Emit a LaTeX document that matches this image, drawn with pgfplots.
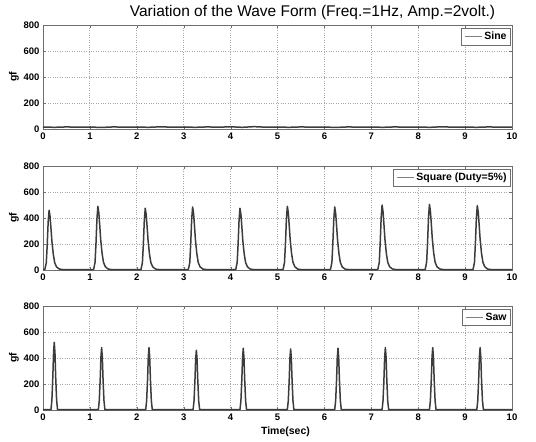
\documentclass[border=0pt]{standalone}
\usepackage{fontspec}
\setmainfont{Liberation Sans}
\usepackage{pgfplots}
\pgfplotsset{compat=1.18}
\definecolor{wave}{RGB}{60,60,60}
\definecolor{frame}{RGB}{110,110,110}
\pgfplotsset{
  wavestyle/.style={
    scale only axis, width=469pt, height=104pt, anchor=south west,
    xmin=0, xmax=10, ymin=0, ymax=800,
    xtick={0,1,...,10}, ytick={0,200,400,600,800},
    grid=major, major grid style={dotted, gray!70, line width=0.8pt},
    axis line style={frame, line width=0.8pt},
    tick style={frame}, tick align=inside, major tick length=3pt,
    /pgf/number format/assume math mode=true,
    tick label style={font=\bfseries\fontsize{9.5}{11}\selectfont},
    label style={font=\bfseries\fontsize{10.5}{12}\selectfont},
    ylabel={gf}, ylabel style={yshift=-2pt},
    legend style={at={(0.998,0.975)}, anchor=north east, draw=frame, line width=1pt,
      font=\bfseries\fontsize{10.5}{12}\selectfont, inner sep=2pt,
      legend cell align=left},
    legend image post style={draw=gray, line width=1.6pt},
  },
  wl/.style={draw=wave, line width=1.5pt, mark=none, line join=round},
}
\begin{document}
\begin{tikzpicture}
\useasboundingbox (0,0) rectangle (536pt,-442pt);
% ---------- Sine ----------
\begin{axis}[wavestyle, at={(43pt,-129pt)},
  title={Variation of the Wave Form (Freq.=1Hz, Amp.=2volt.)},
  title style={font=\fontsize{15.5}{17}\selectfont, yshift=-4pt, xshift=35pt}]
\addplot[wl] coordinates {
(0,15) (0.25,13) (0.5,16) (0.75,14) (1,15) (1.25,12) (1.5,16) (1.75,14) (2,15)
(2.25,13) (2.5,17) (2.75,14) (3,15) (3.25,13) (3.5,16) (3.75,14) (4,17)
(4.25,13) (4.5,18) (4.75,14) (5,15) (5.25,13) (5.5,16) (5.75,14) (6,15)
(6.25,12) (6.5,16) (6.75,14) (7,15) (7.25,13) (7.5,16) (7.75,14) (8,15)
(8.25,13) (8.5,17) (8.75,14) (9,15) (9.25,13) (9.5,16) (9.75,14) (10,15)};
\legend{Sine}
\end{axis}
% ---------- Square ----------
\begin{axis}[wavestyle, at={(43pt,-270pt)}]
\addplot[wl] coordinates {
(0,2) (0.04,5) (0.07,55) (0.09,193) (0.11,368) (0.13,460) (0.15,414) (0.17,322) (0.19,221) (0.22,120) (0.25,55) (0.29,23) (0.35,7) (0.45,2)
(1.05,2) (1.08,5) (1.11,59) (1.13,206) (1.15,392) (1.17,490) (1.19,441) (1.21,343) (1.23,235) (1.26,127) (1.29,59) (1.33,25) (1.39,7) (1.49,2)
(2.06,2) (2.09,5) (2.12,57) (2.14,200) (2.16,380) (2.18,475) (2.20,428) (2.22,333) (2.24,228) (2.27,124) (2.30,57) (2.34,24) (2.40,7) (2.50,2)
(3.07,2) (3.10,5) (3.13,58) (3.15,204) (3.17,388) (3.19,485) (3.21,437) (3.23,340) (3.25,233) (3.28,126) (3.31,58) (3.35,24) (3.41,7) (3.51,2)
(4.08,2) (4.11,5) (4.14,57) (4.16,200) (4.18,380) (4.20,475) (4.22,428) (4.24,333) (4.26,228) (4.29,124) (4.32,57) (4.36,24) (4.42,7) (4.52,2)
(5.09,2) (5.12,5) (5.15,59) (5.17,206) (5.19,392) (5.21,490) (5.23,441) (5.25,343) (5.27,235) (5.30,127) (5.33,59) (5.37,25) (5.43,7) (5.53,2)
(6.10,2) (6.13,5) (6.16,58) (6.18,204) (6.20,388) (6.22,485) (6.24,437) (6.26,340) (6.28,233) (6.31,126) (6.34,58) (6.38,24) (6.44,7) (6.54,2)
(7.11,2) (7.14,5) (7.17,60) (7.19,210) (7.21,400) (7.23,500) (7.25,450) (7.27,350) (7.29,240) (7.32,130) (7.35,60) (7.39,25) (7.45,8) (7.55,2)
(8.12,2) (8.15,5) (8.18,61) (8.20,212) (8.22,404) (8.24,505) (8.26,455) (8.28,354) (8.30,242) (8.33,131) (8.36,61) (8.40,25) (8.46,8) (8.56,2)
(9.14,2) (9.17,5) (9.20,59) (9.22,208) (9.24,396) (9.26,495) (9.28,446) (9.30,347) (9.32,238) (9.35,129) (9.38,59) (9.42,25) (9.48,7) (9.58,2)
(10,2)};
\legend{Square (Duty=5\%)}
\end{axis}
% ---------- Saw ----------
\begin{axis}[wavestyle, at={(43pt,-410pt)}, xlabel={Time(sec)}, xlabel style={xshift=8pt}]
\addplot[wl] coordinates {
(0,3) (0.17,3) (0.19,78) (0.21,260) (0.225,442) (0.24,520) (0.255,442) (0.27,260) (0.29,78) (0.31,3)
(1.18,3) (1.20,72) (1.22,240) (1.235,408) (1.25,480) (1.265,408) (1.28,240) (1.30,72) (1.32,3)
(2.19,3) (2.21,72) (2.23,240) (2.245,408) (2.26,480) (2.275,408) (2.29,240) (2.31,72) (2.33,3)
(3.20,3) (3.22,69) (3.24,230) (3.255,391) (3.27,460) (3.285,391) (3.30,230) (3.32,69) (3.34,3)
(4.20,3) (4.22,71) (4.24,238) (4.255,404) (4.27,475) (4.285,404) (4.30,238) (4.32,71) (4.34,3)
(5.21,3) (5.23,71) (5.25,235) (5.265,400) (5.28,470) (5.295,400) (5.31,235) (5.33,71) (5.35,3)
(6.22,3) (6.24,71) (6.26,238) (6.275,404) (6.29,475) (6.305,404) (6.32,238) (6.34,71) (6.36,3)
(7.23,3) (7.25,72) (7.27,240) (7.285,408) (7.30,480) (7.315,408) (7.33,240) (7.35,72) (7.37,3)
(8.24,3) (8.26,72) (8.28,240) (8.295,408) (8.31,480) (8.325,408) (8.34,240) (8.36,72) (8.38,3)
(9.25,3) (9.27,72) (9.29,240) (9.305,408) (9.32,480) (9.335,408) (9.35,240) (9.37,72) (9.39,3)
(10,3)};
\legend{Saw}
\end{axis}
\end{tikzpicture}
\end{document}
